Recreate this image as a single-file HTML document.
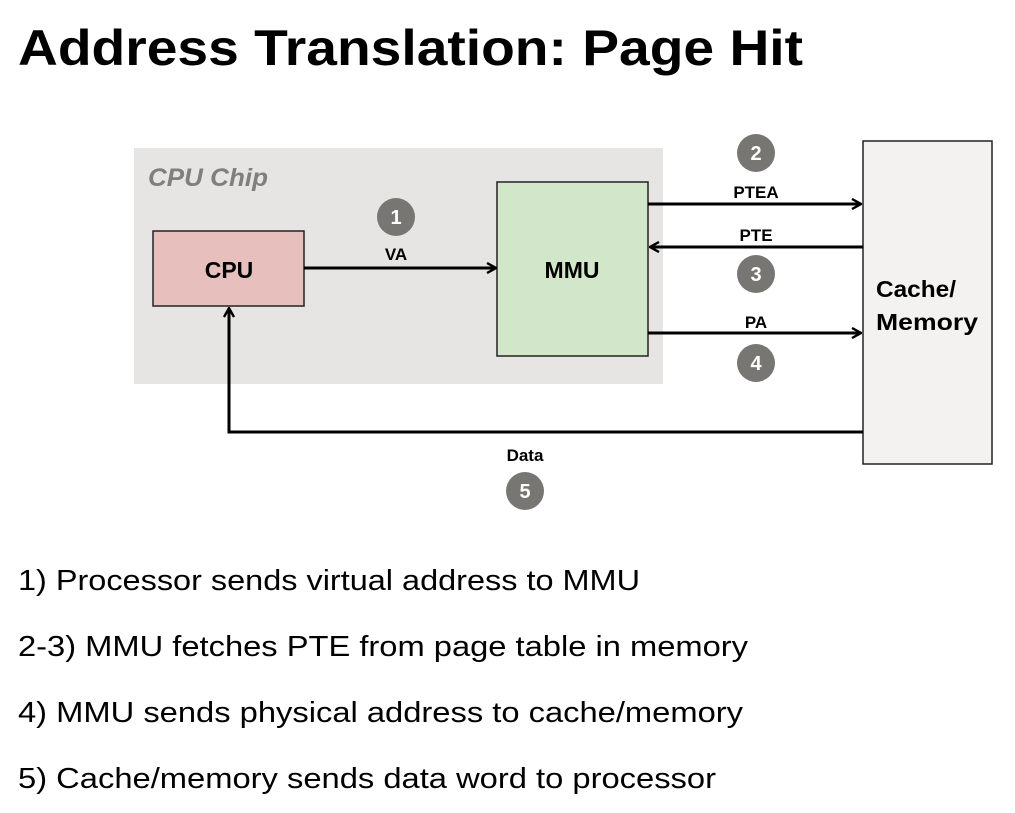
<!DOCTYPE html>
<html><head><meta charset="utf-8"><style>
html,body{margin:0;padding:0;background:#fff;}
svg{display:block;}
text{font-family:"Liberation Sans",sans-serif;}
</style></head><body>
<svg width="1015" height="813" viewBox="0 0 1015 813" xmlns="http://www.w3.org/2000/svg">
<defs>
<marker id="ah" viewBox="0 0 12 12" refX="11" refY="6" markerWidth="12" markerHeight="12" markerUnits="userSpaceOnUse" orient="auto">
<path d="M2,1 L11,6 L2,11" fill="none" stroke="#000" stroke-width="2.4"/>
</marker>
</defs>
<text x="18" y="65" font-size="50" font-weight="bold" textLength="785" lengthAdjust="spacingAndGlyphs">Address Translation: Page Hit</text>

<rect x="134" y="148" width="529" height="236" fill="#e6e5e3"/>
<text x="148" y="186" font-size="25" font-weight="bold" font-style="italic" fill="#7f7f7f" textLength="120" lengthAdjust="spacingAndGlyphs">CPU Chip</text>

<rect x="153" y="231" width="151" height="75" fill="#e7bfbc" stroke="#222" stroke-width="1.5"/>
<text x="229" y="278" font-size="23" font-weight="bold" text-anchor="middle">CPU</text>

<rect x="497" y="182" width="151" height="174" fill="#d2e6c9" stroke="#222" stroke-width="1.5"/>
<text x="572" y="278" font-size="23" font-weight="bold" text-anchor="middle">MMU</text>

<rect x="863" y="141" width="129" height="323" fill="#f3f2f0" stroke="#222" stroke-width="1.5"/>
<text x="876" y="297" font-size="23" font-weight="bold" textLength="80" lengthAdjust="spacingAndGlyphs">Cache/</text>
<text x="876" y="330" font-size="23" font-weight="bold" textLength="102" lengthAdjust="spacingAndGlyphs">Memory</text>

<g stroke="#000" stroke-width="3" fill="none">
<line x1="304" y1="268" x2="496" y2="268" marker-end="url(#ah)"/>
<line x1="648" y1="204" x2="861" y2="204" marker-end="url(#ah)"/>
<line x1="863" y1="247" x2="650" y2="247" marker-end="url(#ah)"/>
<line x1="648" y1="333" x2="861" y2="333" marker-end="url(#ah)"/>
<polyline points="863,432 229,432 229,308" marker-end="url(#ah)"/>
</g>

<g font-size="17" font-weight="bold" text-anchor="middle">
<text x="396" y="260">VA</text>
<text x="756" y="198">PTEA</text>
<text x="756" y="241">PTE</text>
<text x="756" y="328">PA</text>
<text x="525" y="461">Data</text>
</g>

<g fill="#777672">
<circle cx="396" cy="217" r="19"/>
<circle cx="756" cy="153" r="19"/>
<circle cx="756" cy="274" r="19"/>
<circle cx="756" cy="363" r="19"/>
<circle cx="525" cy="491" r="19"/>
</g>
<g fill="#fff" font-size="20" font-weight="bold" text-anchor="middle">
<text x="396" y="224">1</text>
<text x="756" y="160">2</text>
<text x="756" y="281">3</text>
<text x="756" y="370">4</text>
<text x="525" y="498">5</text>
</g>

<g font-size="29">
<text x="18" y="590" textLength="622" lengthAdjust="spacingAndGlyphs">1) Processor sends virtual address to MMU</text>
<text x="18" y="656" textLength="730" lengthAdjust="spacingAndGlyphs">2-3) MMU fetches PTE from page table in memory</text>
<text x="18" y="722" textLength="725" lengthAdjust="spacingAndGlyphs">4) MMU sends physical address to cache/memory</text>
<text x="18" y="788" textLength="698" lengthAdjust="spacingAndGlyphs">5) Cache/memory sends data word to processor</text>
</g>
</svg>
</body></html>
